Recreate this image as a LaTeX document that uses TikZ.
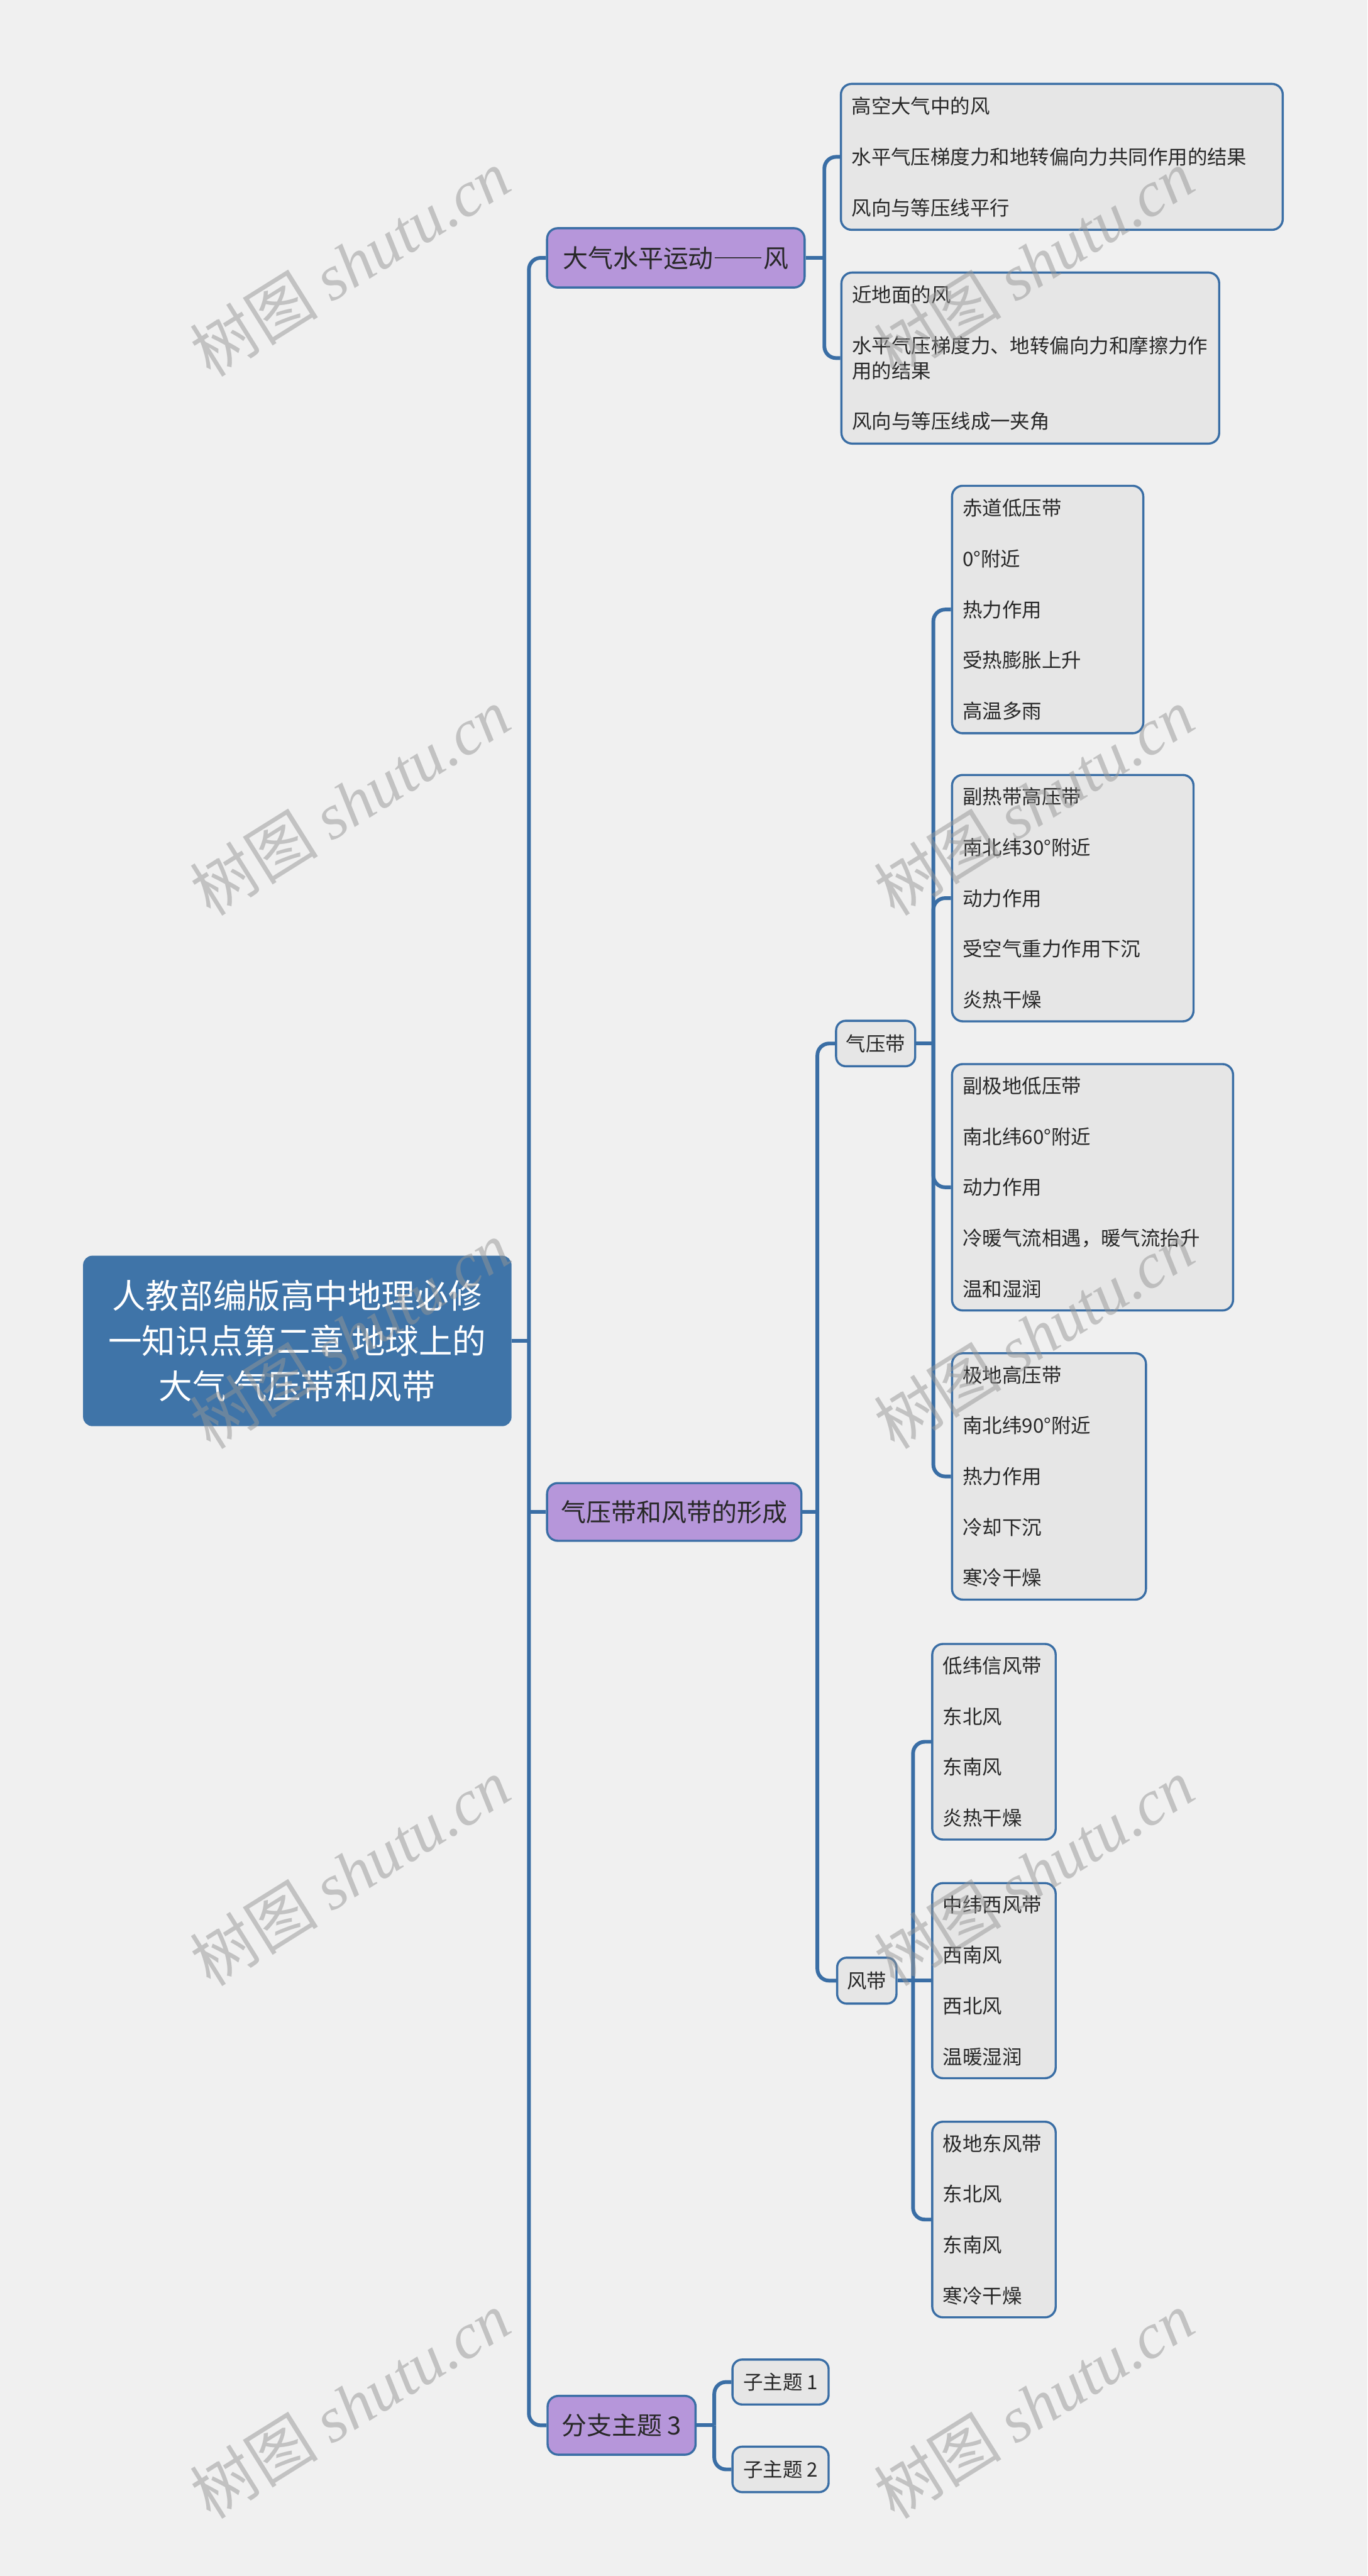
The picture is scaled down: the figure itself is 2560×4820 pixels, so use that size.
\documentclass[tikz,border=0pt]{standalone}
\usepackage{fontspec}
\setmainfont{Noto Sans CJK SC}
\newfontfamily\wmcjk{Noto Sans CJK SC}
\newfontfamily\wmlat{Liberation Serif}
\newfontfamily\fwdash[RawFeature=+fwid]{Noto Sans CJK SC}
\definecolor{bgc}{RGB}{240,240,240}
\definecolor{linec}{RGB}{58,110,165}
\definecolor{rootc}{RGB}{63,116,168}
\definecolor{purpc}{RGB}{182,150,218}
\definecolor{leafc}{RGB}{230,230,230}
\definecolor{textc}{RGB}{40,40,40}
\definecolor{wmc}{RGB}{150,150,150}
\begin{document}
\begin{tikzpicture}[x=1pt,y=-1pt,
  conn/.style={draw=linec,line width=7pt,rounded corners=22pt},
  rootbox/.style={fill=rootc,draw=rootc,line width=3pt,rounded corners=16pt,text=white,
    align=center,inner sep=0pt,font=\fontsize{63}{85}\selectfont},
  mainbox/.style={fill=purpc,draw=linec,line width=4pt,rounded corners=20pt,text=textc,
    align=center,inner sep=0pt,font=\fontsize{47}{56}\selectfont},
  leafbox/.style={fill=leafc,draw=linec,line width=4pt,rounded corners=20pt,text=textc,
    align=left,inner xsep=20pt,inner ysep=0pt,font=\fontsize{37}{47}\selectfont},
  smallbox/.style={fill=leafc,draw=linec,line width=4pt,rounded corners=18pt,text=textc,
    align=center,inner sep=0pt,font=\fontsize{37}{47}\selectfont},
  wm/.style={text=wmc,text opacity=0.5,rotate=32,inner sep=0pt}
]
\fill[bgc] (0,0) rectangle (2560,4820);
\useasboundingbox (0,0) rectangle (2560,4820);

% root
\node[rootbox,minimum width=799pt,minimum height=316pt] (root) at (556.5,2509)
  {人教部编版高中地理必修\\一知识点第二章 地球上的\\大气 气压带和风带};

% main branches
\node[mainbox,minimum width=482pt,minimum height=111pt] (m1) at (1265,482.5) {大气水平运动{\fwdash ——}风};
\node[mainbox,minimum width=476pt,minimum height=108pt] (m2) at (1262,2829) {气压带和风带的形成};
\node[mainbox,minimum width=277pt,minimum height=110pt] (m3) at (1163.5,4538) {分支主题 3};

% branch 1 leaves
\node[leafbox,text width=787pt,minimum height=273pt] (a) at (1987.5,293.5)
  {高空大气中的风\\[48pt]水平气压梯度力和地转偏向力共同作用的结果\\[48pt]风向与等压线平行};
\node[leafbox,text width=667pt,minimum height=320pt] (b) at (1928.5,670)
  {近地面的风\\[48pt]水平气压梯度力、地转偏向力和摩擦力作\\用的结果\\[48pt]风向与等压线成一夹角};

% branch 2
\node[smallbox,minimum width=148pt,minimum height=85pt] (p) at (1639,1952.5) {气压带};
\node[smallbox,minimum width=111pt,minimum height=86pt] (w) at (1622.5,3706) {风带};

\node[leafbox,text width=318pt,minimum height=463pt] (c1) at (1961,1140.5)
  {赤道低压带\\[48pt]0°附近\\[48pt]热力作用\\[48pt]受热膨胀上升\\[48pt]高温多雨};
\node[leafbox,text width=412pt,minimum height=461pt] (c2) at (2008,1680.5)
  {副热带高压带\\[48pt]南北纬30°附近\\[48pt]动力作用\\[48pt]受空气重力作用下沉\\[48pt]炎热干燥};
\node[leafbox,text width=486pt,minimum height=461pt] (c3) at (2045,2221.5)
  {副极地低压带\\[48pt]南北纬60°附近\\[48pt]动力作用\\[48pt]冷暖气流相遇，暖气流抬升\\[48pt]温和湿润};
\node[leafbox,text width=323pt,minimum height=461pt] (c4) at (1963.5,2762.5)
  {极地高压带\\[48pt]南北纬90°附近\\[48pt]热力作用\\[48pt]冷却下沉\\[48pt]寒冷干燥};

\node[leafbox,text width=191pt,minimum height=366pt] (d1) at (1860.5,3259)
  {低纬信风带\\[48pt]东北风\\[48pt]东南风\\[48pt]炎热干燥};
\node[leafbox,text width=191pt,minimum height=365pt] (d2) at (1860.5,3706)
  {中纬西风带\\[48pt]西南风\\[48pt]西北风\\[48pt]温暖湿润};
\node[leafbox,text width=191pt,minimum height=366pt] (d3) at (1860.5,4153)
  {极地东风带\\[48pt]东北风\\[48pt]东南风\\[48pt]寒冷干燥};

% branch 3
\node[smallbox,minimum width=180pt,minimum height=84pt] (s1) at (1461,4457) {子主题 1};
\node[smallbox,minimum width=180pt,minimum height=85pt] (s2) at (1461,4620.5) {子主题 2};

% junction coordinates
\coordinate (t0) at (990,2509);
\coordinate (t2) at (990,2829);
\coordinate (j1) at (1543,482.5);
\coordinate (j2) at (1530,2829);
\coordinate (j3) at (1747,1952.5);
\coordinate (j4) at (1709,3706);
\coordinate (j5) at (1337,4538);

% connectors
\draw[conn] (root.east) -- (t0);
\draw[conn] (m1.west) -| (t0);
\draw[conn] (m3.west) -| (t0);
\draw[conn] (m2.west) -- (t2);

\draw[conn] (m1.east) -- (j1);
\draw[conn] (a.west) -| (j1);
\draw[conn] (b.west) -| (j1);

\draw[conn] (m2.east) -- (j2);
\draw[conn] (p.west) -| (j2);
\draw[conn] (w.west) -| (j2);

\draw[conn] (p.east) -- (j3);
\draw[conn] (c1.west) -| (j3);
\draw[conn] (c2.west) -| (j3);
\draw[conn] (c3.west) -| (j3);
\draw[conn] (c4.west) -| (j3);

\draw[conn] (w.east) -- (j4);
\draw[conn] (d1.west) -| (j4);
\draw[conn] (d2.west) -- (j4);
\draw[conn] (d3.west) -| (j4);

\draw[conn] (m3.east) -- (j5);
\draw[conn] (s1.west) -| (j5);
\draw[conn] (s2.west) -| (j5);

% watermarks
\foreach \i/\xx/\yy in {1/655/492,2/655/1500,3/655/2498,4/655/3503,5/655/4500,
                        6/1935/492,7/1935/1500,8/1935/2498,9/1935/3503,10/1935/4500}{
  \node[wm] (wm\i) at (\xx,\yy) {\fontsize{120}{120}\selectfont{\wmcjk 树图} {\wmlat\itshape shutu.cn}};
}
\end{tikzpicture}
\end{document}
